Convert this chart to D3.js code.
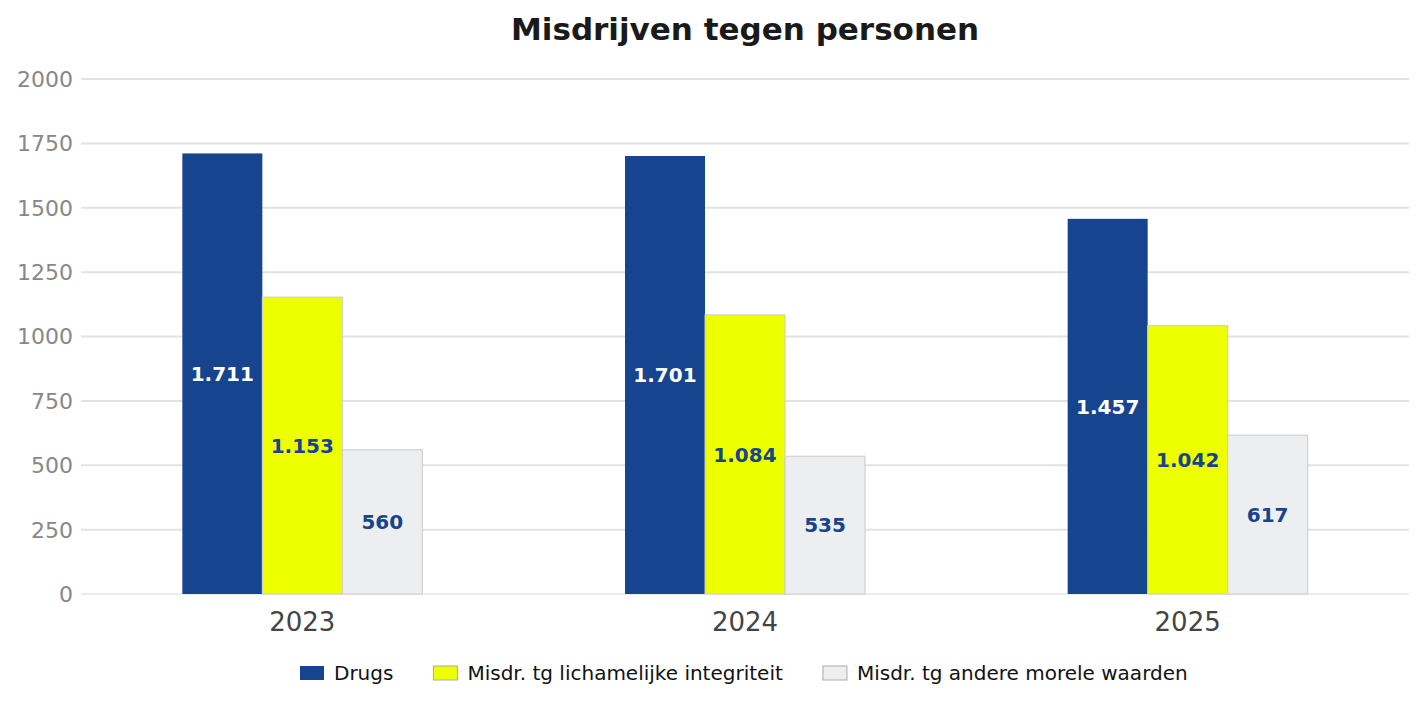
<!DOCTYPE html>
<html><head><meta charset="utf-8">
<script src="https://cdn.jsdelivr.net/npm/d3@7/dist/d3.min.js"></script>
<style>body{margin:0;background:#fff;font-family:"DejaVu Sans",sans-serif;}</style>
</head><body>
<svg id="c" width="1424" height="707"></svg>
<script>
const title = "Misdrijven tegen personen";
const years = ["2023","2024","2025"];
const seriesNames = ["Drugs","Misdr. tg lichamelijke integriteit","Misdr. tg andere morele waarden"];
const drugs = [1711,1701,1457];
const lichamelijk = [1153,1084,1042];
const moreel = [560,535,617];
const yTicks = [0,250,500,750,1000,1250,1500,1750,2000];
const colors = ["#17448E","#EEFF00","#EDEEF0"];
const labelColors = ["#ffffff","#17448E","#17448E"];
const strokes = ["none","#cccccc","#cccccc"];

(function(){
const series = [drugs, lichamelijk, moreel];
const svg = d3.select("#c");
const pl = 81, pr = 1409, pt = 79, pb = 594;

const x = d3.scaleBand().domain(years).range([pl,pr]).padding(0);
const y = d3.scaleLinear().domain([0,2000]).range([pb,pt]);
const barW = 80;
const x1 = d3.scaleBand().domain(d3.range(3)).range([-1.5*barW, 1.5*barW]);

svg.append("g").selectAll("line").data(yTicks).join("line")
  .attr("x1",pl).attr("x2",pr)
  .attr("y1",d=>y(d)).attr("y2",d=>y(d))
  .attr("stroke",d=>d===0?"#ececec":"#e2e2e2").attr("stroke-width",2);

svg.append("g").selectAll("text").data(yTicks).join("text")
  .attr("x",73).attr("y",d=>y(d)).attr("dy","0.36em")
  .attr("text-anchor","end").attr("font-size",22).attr("fill","#888888")
  .text(d=>d);

const fmt = v => d3.format(",")(v).replace(/,/g,".");
series.forEach((vals,si)=>{
  const g = svg.append("g");
  g.selectAll("rect").data(vals).join("rect")
    .attr("x",(d,i)=>x(years[i])+x.bandwidth()/2+x1(si))
    .attr("y",d=>y(d))
    .attr("width",x1.bandwidth())
    .attr("height",d=>y(0)-y(d))
    .attr("fill",colors[si])
    .attr("stroke",strokes[si]).attr("stroke-width",1);
  g.selectAll("text").data(vals).join("text")
    .attr("x",(d,i)=>x(years[i])+x.bandwidth()/2+x1(si)+x1.bandwidth()/2)
    .attr("y",d=>(y(d)+y(0))/2).attr("dy","0.36em")
    .attr("text-anchor","middle").attr("font-size",20).attr("font-weight","bold")
    .attr("fill",labelColors[si]).text(d=>fmt(d));
});

svg.append("g").selectAll("text").data(years).join("text")
  .attr("x",d=>x(d)+x.bandwidth()/2).attr("y",622).attr("dy","0.36em")
  .attr("text-anchor","middle").attr("font-size",26).attr("fill","#444444")
  .text(d=>d);

svg.append("text").attr("x",745).attr("y",29).attr("dy","0.36em")
  .attr("text-anchor","middle").attr("font-size",31).attr("font-weight","bold")
  .attr("fill","#1a1a1a").text(title);

const lg = svg.append("g");
const items = lg.selectAll("g").data(seriesNames).join("g");
items.append("rect").attr("width",24).attr("height",14).attr("y",-7)
  .attr("fill",(d,i)=>colors[i]).attr("stroke",(d,i)=>i===0?"none":"#aaaaaa");
items.append("text").attr("x",34).attr("dy","0.36em").attr("font-size",20)
  .attr("fill","#111").text(d=>d);
let widths = [];
items.each(function(){ widths.push(this.getBBox().width); });
const gap = 40;
let cx = 300;
items.attr("transform",(d,i)=>{ const t=`translate(${cx},673)`; cx+=widths[i]+gap; return t; });
})();
</script>
</body></html>
